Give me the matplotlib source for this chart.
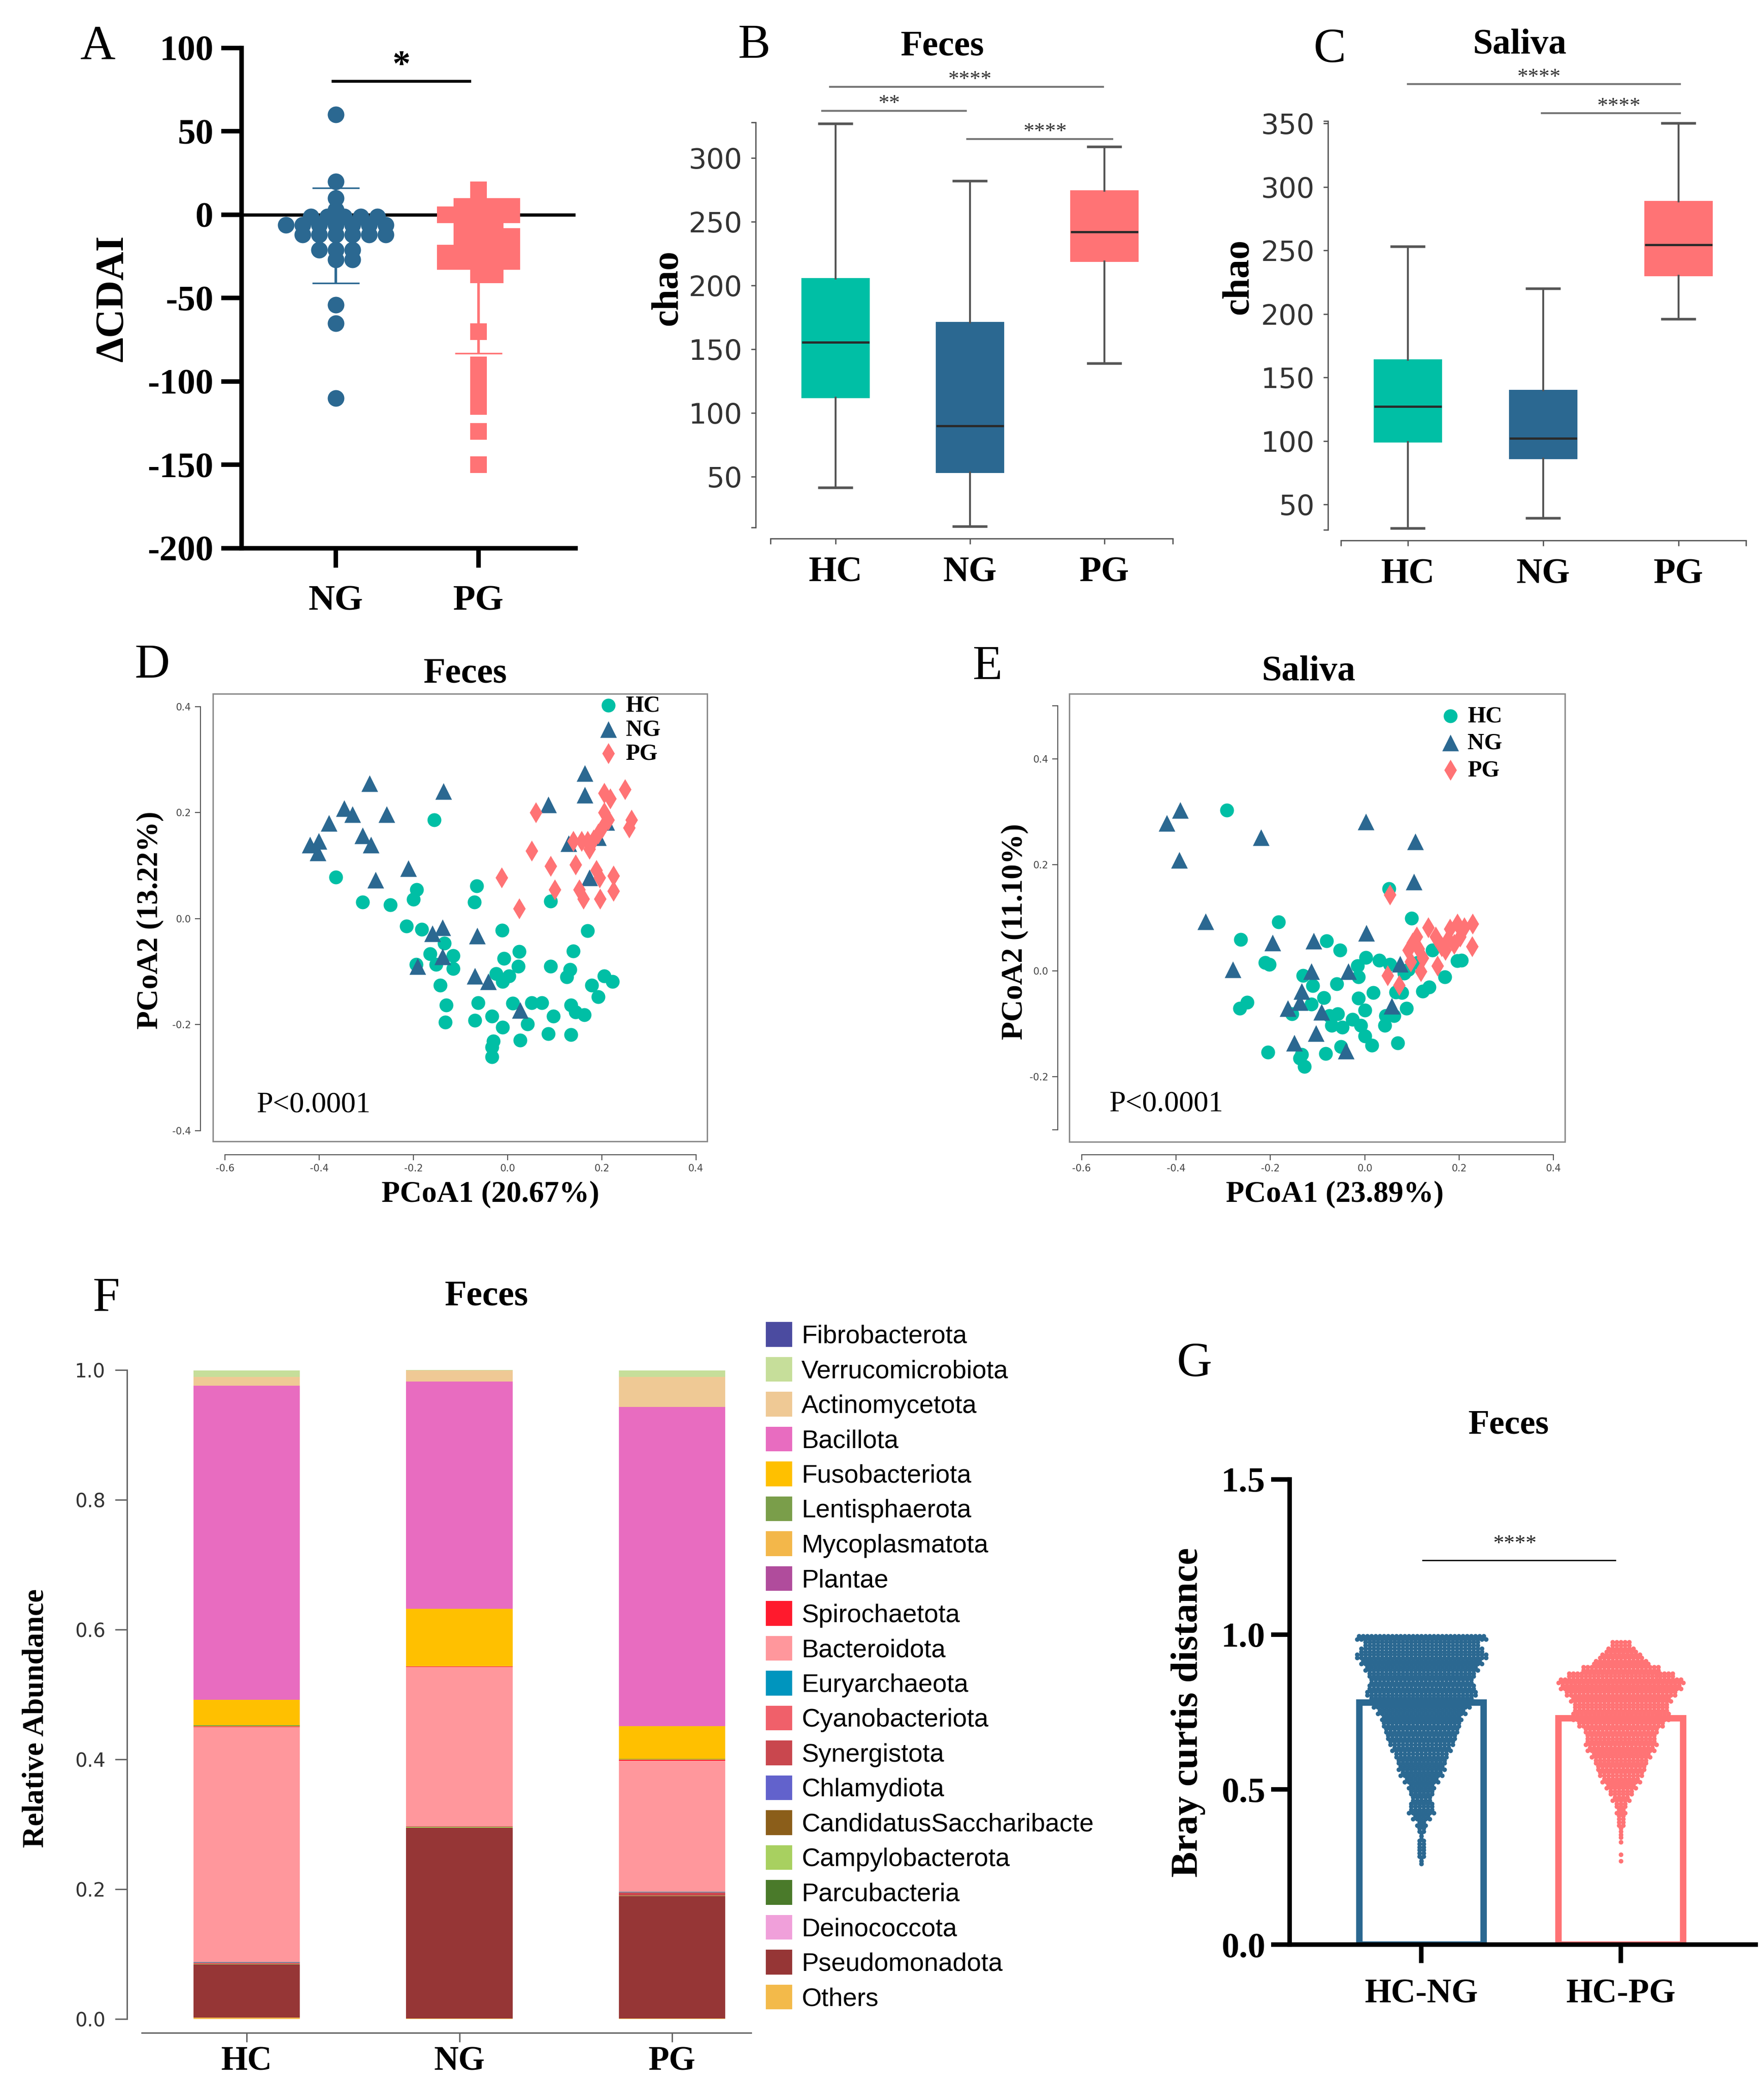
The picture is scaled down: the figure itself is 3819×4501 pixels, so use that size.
"""Multi-panel figure: CDAI change, chao richness, PCoA, phylum composition, Bray-Curtis."""

import matplotlib

matplotlib.use("Agg")
import matplotlib.pyplot as plt
from matplotlib.patches import Rectangle

plt.rcParams["font.family"] = ["DejaVu Sans"]
plt.rcParams["axes.unicode_minus"] = False

SERIF = "Liberation Serif"
SANS = "DejaVu Sans"
W, H = 3819, 4501
PT = 0.72  # points per pixel at dpi=100

HC_COLOR = "#00BFA5"
NG_COLOR = "#2B6891"
PG_COLOR = "#FF7375"

# ---------------- A: change in CDAI ----------------
cdai_groups = ["NG", "PG"]
cdai_ng = [60, 20, 10, 3, -1, -1, -1, -1, -1, -6, -6, -6, -6, -6, -6, -6,
           -12, -12, -12, -12, -12, -12, -21, -21, -21, -27, -27, -54, -65, -110]
cdai_pg = [15, 5, 5, 5, 5, 0, 0, 0, 0, 0, -5, -5, -5, -13, -13, -13, -13,
           -18, -18, -18, -18, -23, -23, -23, -23, -23, -28, -28, -28, -28, -28,
           -36, -36, -70, -90, -100, -110, -115, -130, -150]
cdai_mean = [-12.5, -41.0]
cdai_sd = [28.5, 42.0]

# ---------------- B, C: chao richness ----------------
chao_groups = ["HC", "NG", "PG"]
feces_low = [41.5, 11.0, 138.7]
feces_q1 = [112.0, 53.4, 219.0]
feces_med = [155.6, 90.0, 242.0]
feces_q3 = [205.7, 171.0, 274.3]
feces_high = [327.0, 282.0, 309.0]
saliva_low = [31.0, 39.0, 196.0]
saliva_q1 = [99.0, 86.0, 230.0]
saliva_med = [127.0, 102.0, 254.5]
saliva_q3 = [164.0, 140.0, 288.5]
saliva_high = [253.0, 220.0, 350.0]

feces_sig_text = ["****", "**", "****"]
feces_sig_span = [(-0.04, 1.99), (-0.10, 0.97), (0.98, 2.06)]
feces_sig_y = [356, 337, 315]
feces_sig_xtext = [1.0, 0.40, 1.56]
saliva_sig_text = ["****", "****"]
saliva_sig_span = [(0.0, 2.01), (0.99, 2.01)]
saliva_sig_y = [381, 358]
saliva_sig_xtext = [0.97, 1.56]

# ---------------- D, E: PCoA ----------------
feces_hc = [(-0.156, 0.186), (-0.365, 0.078), (-0.308, 0.031), (-0.249, 0.026), (-0.193, 0.055),
            (-0.200, 0.036), (-0.066, 0.062), (-0.071, 0.031), (0.091, 0.033), (-0.215, -0.014),
            (-0.182, -0.020), (-0.012, -0.022), (0.170, -0.023), (-0.134, -0.046), (-0.165, -0.066),
            (-0.116, -0.070), (-0.152, -0.086), (-0.194, -0.086), (-0.116, -0.094), (-0.008, -0.075),
            (0.025, -0.062), (0.023, -0.090), (0.139, -0.061), (0.091, -0.090), (0.133, -0.096),
            (0.126, -0.110), (-0.024, -0.104), (0.003, -0.108), (-0.011, -0.119), (-0.143, -0.126),
            (0.205, -0.108), (0.179, -0.126), (0.223, -0.119), (0.192, -0.147), (-0.130, -0.163),
            (-0.063, -0.159), (0.011, -0.160), (0.051, -0.159), (0.073, -0.159), (0.135, -0.163),
            (0.144, -0.176), (0.163, -0.181), (0.097, -0.184), (-0.132, -0.195), (-0.070, -0.192),
            (-0.033, -0.184), (-0.011, -0.205), (0.042, -0.199), (0.086, -0.217), (0.135, -0.219),
            (0.027, -0.229), (-0.030, -0.231), (-0.033, -0.242), (-0.033, -0.261)]
feces_ng = [(-0.293, 0.255), (-0.136, 0.240), (-0.347, 0.208), (-0.330, 0.197), (-0.257, 0.197),
            (-0.380, 0.180), (-0.308, 0.157), (-0.290, 0.139), (-0.420, 0.139), (-0.401, 0.146),
            (-0.403, 0.124), (-0.211, 0.095), (-0.281, 0.073), (0.164, 0.274), (0.164, 0.233),
            (0.086, 0.215), (0.130, 0.142), (0.210, 0.182), (0.192, 0.153), (0.174, 0.077),
            (-0.160, -0.028), (-0.138, -0.017), (-0.065, -0.032), (-0.138, -0.072), (-0.191, -0.090),
            (-0.070, -0.108), (-0.041, -0.119), (0.027, -0.173)]
feces_pg = [(-0.013, 0.077), (0.025, 0.019), (0.051, 0.128), (0.060, 0.200), (0.091, 0.099),
            (0.100, 0.055), (0.144, 0.102), (0.139, 0.146), (0.157, 0.146), (0.170, 0.146),
            (0.183, 0.149), (0.174, 0.131), (0.152, 0.055), (0.161, 0.037), (0.188, 0.091),
            (0.195, 0.077), (0.196, 0.037), (0.225, 0.081), (0.225, 0.052), (0.205, 0.237),
            (0.218, 0.226), (0.249, 0.244), (0.263, 0.186), (0.258, 0.171), (0.205, 0.200),
            (0.214, 0.186), (0.201, 0.171), (0.192, 0.160)]

saliva_hc = [(-0.292, 0.303), (0.051, 0.155), (0.099, 0.099), (-0.183, 0.092), (-0.263, 0.059),
             (-0.081, 0.056), (-0.053, 0.039), (-0.211, 0.015), (-0.202, 0.012), (0.002, 0.025),
             (-0.015, 0.009), (0.031, 0.020), (0.053, 0.012), (0.112, 0.015), (0.143, 0.039),
             (0.196, 0.019), (0.205, 0.020), (0.170, -0.012), (-0.131, -0.009), (-0.110, -0.028),
             (-0.059, -0.025), (-0.013, -0.012), (0.083, -0.005), (0.092, 0.002), (0.018, -0.041),
             (-0.013, -0.052), (-0.087, -0.051), (0.066, -0.040), (0.079, -0.041), (0.123, -0.039),
             (0.136, -0.031), (-0.265, -0.071), (-0.249, -0.060), (-0.113, -0.063), (-0.154, -0.081),
             (-0.075, -0.085), (-0.057, -0.081), (0.000, -0.074), (0.044, -0.085), (0.088, -0.071),
             (0.062, -0.085), (-0.070, -0.103), (-0.048, -0.107), (-0.026, -0.092), (-0.009, -0.103),
             (0.042, -0.103), (0.000, -0.123), (0.015, -0.141), (0.070, -0.136), (-0.205, -0.154),
             (-0.134, -0.158), (-0.083, -0.156), (-0.051, -0.143), (-0.128, -0.181), (-0.138, -0.165)]
saliva_ng = [(-0.420, 0.279), (-0.391, 0.303), (-0.393, 0.209), (-0.220, 0.252), (0.002, 0.281),
             (0.107, 0.244), (0.104, 0.168), (-0.337, 0.093), (-0.195, 0.053), (-0.108, 0.056),
             (0.003, 0.071), (-0.280, 0.002), (-0.113, -0.001), (-0.035, -0.001), (0.075, 0.013),
             (-0.134, -0.039), (-0.163, -0.071), (-0.138, -0.060), (-0.092, -0.078), (0.057, -0.067),
             (-0.103, -0.118), (-0.149, -0.136), (-0.040, -0.151)]
saliva_pg = [(0.053, 0.144), (0.048, -0.009), (0.073, -0.027), (0.101, 0.053), (0.114, 0.042),
             (0.110, 0.064), (0.134, 0.082), (0.123, 0.024), (0.154, 0.009), (0.119, -0.001),
             (0.150, 0.064), (0.163, 0.046), (0.176, 0.060), (0.180, 0.079), (0.196, 0.089),
             (0.211, 0.082), (0.202, 0.064), (0.228, 0.089), (0.227, 0.046), (0.092, 0.039),
             (0.097, 0.017), (0.171, 0.039), (0.189, 0.050)]

# ---------------- F: phylum relative abundance (bottom -> top) ----------------
comp_groups = ["HC", "NG", "PG"]
phyla = ["Others", "Pseudomonadota", "Deinococcota", "Parcubacteria", "Campylobacterota",
         "CandidatusSaccharibacte", "Chlamydiota", "Synergistota", "Cyanobacteriota",
         "Euryarchaeota", "Bacteroidota", "Spirochaetota", "Plantae", "Mycoplasmatota",
         "Lentisphaerota", "Fusobacteriota", "Bacillota", "Actinomycetota",
         "Verrucomicrobiota", "Fibrobacterota"]
abund_hc = [0.002, 0.082, 0.0, 0.0, 0.0005, 0.0, 0.0, 0.001, 0.001, 0.001, 0.362, 0.001,
            0.0, 0.001, 0.001, 0.039, 0.484, 0.014, 0.010, 0.0]
abund_ng = [0.001, 0.294, 0.0, 0.0, 0.001, 0.0, 0.0, 0.001, 0.0, 0.0, 0.245, 0.001,
            0.0, 0.001, 0.0, 0.088, 0.350, 0.017, 0.001, 0.0]
abund_pg = [0.001, 0.188, 0.0, 0.0, 0.001, 0.0, 0.0, 0.004, 0.001, 0.001, 0.202, 0.001,
            0.0, 0.001, 0.001, 0.050, 0.492, 0.046, 0.010, 0.0]
phylum_colors = ["#F3BA4A", "#963636", "#F0A0DA", "#4A7A2A", "#A8D060",
                 "#8B5E1A", "#6262CC", "#C9474E", "#F0606A",
                 "#0095BE", "#FF979C", "#FF1A2D", "#B04C9C", "#F3B74A",
                 "#7A9E4A", "#FFC000", "#E86CC0", "#EFC995",
                 "#C6DE9A", "#4B4BA0"]

# ---------------- G: Bray-Curtis distances (pairs per 0.02 bin) ----------------
bc_groups = ["HC-NG", "HC-PG"]
bc_means = [0.78, 0.73]
bc_levels_ng = [0.27, 0.29, 0.31, 0.33, 0.35, 0.37, 0.39, 0.41, 0.43, 0.45, 0.47, 0.49, 0.51,
                0.53, 0.55, 0.57, 0.59, 0.61, 0.63, 0.65, 0.67, 0.69, 0.71, 0.73, 0.75, 0.77,
                0.79, 0.81, 0.83, 0.85, 0.87, 0.89, 0.91, 0.93, 0.95, 0.97, 0.99]
bc_counts_ng = [3, 4, 4, 4, 3, 4, 5, 9, 13, 12, 10, 12, 13,
                17, 21, 23, 24, 26, 29, 32, 34, 36, 38, 39, 43, 47,
                51, 54, 52, 50, 52, 55, 59, 64, 60, 56, 63]
bc_levels_pg = [0.27, 0.29, 0.31, 0.33, 0.35, 0.37, 0.39, 0.41, 0.43, 0.45, 0.47, 0.49, 0.51,
                0.53, 0.55, 0.57, 0.59, 0.61, 0.63, 0.65, 0.67, 0.69, 0.71, 0.73, 0.75, 0.77,
                0.79, 0.81, 0.83, 0.85, 0.87, 0.89, 0.91, 0.93, 0.95, 0.97]
bc_counts_pg = [1, 1, 0, 1, 2, 2, 4, 4, 5, 6, 9, 12, 15,
                19, 22, 24, 26, 29, 33, 35, 34, 36, 42, 48, 47, 46,
                49, 54, 59, 61, 52, 38, 27, 21, 15, 10]


fig = plt.figure(figsize=(W / 100, H / 100), dpi=100)


def px_axes(x0, y0, x1, y1):
    return fig.add_axes([x0 / W, 1 - y1 / H, (x1 - x0) / W, (y1 - y0) / H])


def fig_text(x, y, s, size, weight="bold", family=SERIF, rotation=0):
    fig.text(x / W, 1 - y / H, s, fontsize=size, fontweight=weight, family=family,
             ha="center", va="center_baseline", rotation=rotation, rotation_mode="anchor")


def beeswarm(values, w_px, h_px, ppu_x, ppu_y, square):
    placed, offsets = [], []
    cands = [0.0]
    for k in range(1, 40):
        cands += [k * w_px / 2, -k * w_px / 2]
    for v in values:
        y = v * ppu_y
        for c in cands:
            ok = True
            for px, py in placed:
                dx, dy = abs(c - px), abs(y - py)
                if square:
                    if dx < 0.95 * w_px and dy < 0.5 * h_px:
                        ok = False
                        break
                elif dx * dx + dy * dy < (0.6 * w_px) ** 2:
                    ok = False
                    break
            if ok:
                break
        placed.append((c, y))
        offsets.append(c / ppu_x)
    return offsets


def row_swarm(center, levels, counts, pitch, dy):
    xs, ys = [], []
    for v, n in zip(levels, counts):
        if n <= 3:
            for k in range(n):
                xs.append(center)
                ys.append(v + (k - (n - 1) / 2) * dy)
            continue
        first = (n + 1) // 2
        for row, m in ((0, first), (1, n - first)):
            for i in range(m):
                xs.append(center + (i - (m - 1) / 2) * pitch)
                ys.append(v + (row - 0.5) * dy)
    return xs, ys


# ================= Panel A =================
axA = px_axes(523, 104, 1246, 1187)
axA.set_xlim(-0.66, 1.68)
axA.set_ylim(-200, 100)
for s in ("top", "right"):
    axA.spines[s].set_visible(False)
for s in ("left", "bottom"):
    axA.spines[s].set_linewidth(7)
axA.set_yticks([-200, -150, -100, -50, 0, 50, 100],
               ["-200", "-150", "-100", "-50", "0", "50", "100"],
               fontsize=56, fontweight="bold", family=SERIF)
axA.set_xticks([0, 1], cdai_groups, fontsize=57, fontweight="bold", family=SERIF)
axA.tick_params(axis="y", length=44 * PT, width=7, pad=12)
axA.tick_params(axis="x", length=42 * PT, width=7, pad=27)
axA.axhline(0, color="black", lw=5, zorder=1)
for i, (m, sd, c) in enumerate(zip(cdai_mean, cdai_sd, [NG_COLOR, PG_COLOR])):
    axA.errorbar(i, m, yerr=sd, fmt="none", ecolor=c, elinewidth=4, capsize=37,
                 capthick=2.5, zorder=2)
ppu_y = 1083 / 300
off_ng = beeswarm(cdai_ng, 36, 36, 309, ppu_y, square=False)
off_pg = beeswarm(cdai_pg, 36, 34, 309, ppu_y, square=True)
axA.scatter([0 + o for o in off_ng], cdai_ng, s=(36 * PT) ** 2, marker="o",
            color=NG_COLOR, linewidths=0, zorder=3, clip_on=False)
axA.scatter([1 + o for o in off_pg], cdai_pg, s=(36 * PT) ** 2, marker="s",
            color=PG_COLOR, linewidths=0, zorder=3, clip_on=False)
axA.plot([-0.02, 0.94], [80, 80], color="black", lw=4.5, clip_on=False)
axA.text(0.46, 84, "*", ha="center", va="baseline", fontsize=56, fontweight="bold",
         family=SERIF)
fig_text(212, 91, "A", 76, weight="normal")
fig_text(236, 646, "\u0394CDAI", 62, rotation=90)


# ================= Panels B, C =================
def chao_panel(box, xlim, ylim, left_out, ybounds, yticks, lows, q1s, meds, q3s, highs,
               sig_text, sig_span, sig_y, sig_xtext):
    ax = px_axes(*box)
    stats = [dict(med=m, q1=a, q3=b, whislo=lo, whishi=hi, fliers=[])
             for lo, a, m, b, hi in zip(lows, q1s, meds, q3s, highs)]
    res = ax.bxp(stats, positions=[0, 1, 2], widths=0.5, patch_artist=True,
                 manage_ticks=False, capwidths=0.24,
                 whiskerprops=dict(color="#555555", lw=3),
                 capprops=dict(color="#555555", lw=4),
                 medianprops=dict(color="#2a2a2a", lw=3.5))
    for patch, c in zip(res["boxes"], [HC_COLOR, NG_COLOR, PG_COLOR]):
        patch.set_facecolor(c)
        patch.set_edgecolor(c)
        patch.set_linewidth(1.5)
    ax.set_xlim(*xlim)
    ax.set_ylim(*ylim)
    for s in ("top", "right"):
        ax.spines[s].set_visible(False)
    ax.spines["left"].set_position(("outward", left_out * PT))
    ax.spines["left"].set_bounds(*ybounds)
    for s in ("left", "bottom"):
        ax.spines[s].set_color("#555555")
        ax.spines[s].set_linewidth(2)
    ax.set_yticks(yticks, [str(t) for t in yticks], fontsize=44, family=SANS, color="#333333")
    ax.set_yticks(list(ybounds), minor=True)
    ax.set_xticks([0, 1, 2], chao_groups, fontsize=56, fontweight="bold", family=SERIF)
    ax.set_xticks(list(xlim), minor=True)
    ax.tick_params(axis="y", which="both", length=10 * PT, width=2, color="#555555", pad=14)
    ax.tick_params(axis="x", which="both", length=12 * PT, width=2, color="#555555", pad=19)
    for txt, (xa, xb), y, xt in zip(sig_text, sig_span, sig_y, sig_xtext):
        ax.plot([xa, xb], [y, y], color="#777777", lw=3, clip_on=False)
        ax.annotate(txt, (xt, y), xytext=(0, 2), textcoords="offset points", ha="center",
                    va="baseline", fontsize=34, family=SERIF, color="#333333",
                    annotation_clip=False)
    return ax


chao_panel((1668, 232, 2539, 1166), (-0.485, 2.509), (1.45, 340), 32, (10, 328),
           [50, 100, 150, 200, 250, 300], feces_low, feces_q1, feces_med, feces_q3,
           feces_high, feces_sig_text, feces_sig_span, feces_sig_y, feces_sig_xtext)
chao_panel((2903, 240, 3780, 1170), (-0.495, 2.498), (21.6, 360), 28, (30, 352),
           [50, 100, 150, 200, 250, 300, 350], saliva_low, saliva_q1, saliva_med, saliva_q3,
           saliva_high, saliva_sig_text, saliva_sig_span, saliva_sig_y, saliva_sig_xtext)
fig_text(1633, 88, "B", 76, weight="normal")
fig_text(2040, 93, "Feces", 56)
fig_text(1437, 623, "chao", 59, rotation=90)
fig_text(2879, 97, "C", 76, weight="normal")
fig_text(3290, 89, "Saliva", 56)
fig_text(2673, 599, "chao", 59, rotation=90)


# ================= Panels D, E =================
def pcoa_panel(box, ylim, left_out, bottom_out, ybounds, yticks, yminor, hc, ng, pg,
               legend_xy, legend_spacing):
    ax = px_axes(*box)
    ax.set_xlim(-0.626, 0.424)
    ax.set_ylim(*ylim)
    ax.add_patch(Rectangle((0, 0), 1, 1, transform=ax.transAxes, fill=False,
                           edgecolor="#8c8c8c", lw=2.2, clip_on=False))
    for s in ("top", "right"):
        ax.spines[s].set_visible(False)
    ax.spines["left"].set_position(("outward", left_out * PT))
    ax.spines["bottom"].set_position(("outward", bottom_out * PT))
    ax.spines["left"].set_bounds(*ybounds)
    ax.spines["bottom"].set_bounds(-0.6, 0.4)
    for s in ("left", "bottom"):
        ax.spines[s].set_color("#555555")
        ax.spines[s].set_linewidth(1.6)
    xt = [-0.6, -0.4, -0.2, 0.0, 0.2, 0.4]
    ax.set_xticks(xt, [f"{t:.1f}" for t in xt], fontsize=15, family=SANS, color="#444444")
    ax.set_yticks(yticks, [f"{t:.1f}" for t in yticks], fontsize=15, family=SANS,
                  color="#444444")
    if yminor:
        ax.set_yticks(yminor, minor=True)
    ax.tick_params(axis="both", which="both", length=12 * PT, width=1.6, color="#555555",
                   pad=6)
    h1 = ax.scatter([p[0] for p in hc], [p[1] for p in hc], s=(30 * PT) ** 2, marker="o",
                    color=HC_COLOR, linewidths=0, zorder=3)
    h2 = ax.scatter([p[0] for p in ng], [p[1] for p in ng], s=(36 * PT) ** 2, marker="^",
                    color=NG_COLOR, linewidths=0, zorder=3)
    h3 = ax.scatter([p[0] for p in pg], [p[1] for p in pg], s=(32 * PT) ** 2, marker="d",
                    color=PG_COLOR, linewidths=0, zorder=3)
    ax.legend([h1, h2, h3], chao_groups, loc="upper left",
              bbox_to_anchor=(legend_xy[0] / W, 1 - legend_xy[1] / H),
              bbox_transform=fig.transFigure, frameon=False, borderpad=0, borderaxespad=0,
              handlelength=0.8, handletextpad=0.35, labelspacing=legend_spacing,
              scatterpoints=1, prop={"family": SERIF, "weight": "bold", "size": 36})
    return ax


pcoa_panel((461, 1502, 1531, 2471), (-0.42, 0.424), 27, 29, (-0.4, 0.4),
           [-0.4, -0.2, 0.0, 0.2, 0.4], None, feces_hc, feces_ng, feces_pg, (1297, 1505), 0.12)
pcoa_panel((2315, 1502, 3388, 2472), (-0.323, 0.523), 25, 28, (-0.3, 0.5),
           [-0.2, 0.0, 0.2, 0.4], [-0.3, 0.5], saliva_hc, saliva_ng, saliva_pg,
           (3120, 1528), 0.25)
fig_text(330, 1430, "D", 76, weight="normal")
fig_text(1007, 1451, "Feces", 56)
fig_text(318, 1992, "PCoA2 (13.22%)", 47, rotation=90)
fig_text(1062, 2579, "PCoA1 (20.67%)", 47)
fig.text(555 / W, 1 - 2386 / H, "P<0.0001", fontsize=46, family=SERIF, ha="left",
         va="center_baseline")
fig_text(2138, 1433, "E", 76, weight="normal")
fig_text(2833, 1446, "Saliva", 56)
fig_text(2190, 2017, "PCoA2 (11.10%)", 47, rotation=90)
fig_text(2890, 2579, "PCoA1 (23.89%)", 47)
fig.text(2401 / W, 1 - 2383 / H, "P<0.0001", fontsize=46, family=SERIF, ha="left",
         va="center_baseline")


# ================= Panel F =================
axF = px_axes(307, 2966, 1626, 4371)
axF.set_xlim(-0.493, 2.371)
axF.set_ylim(0, 1)
bottoms = [0.0, 0.0, 0.0]
bars = []
for name, a, b, c, col in zip(phyla, abund_hc, abund_ng, abund_pg, phylum_colors):
    vals = [a, b, c]
    bars.append(axF.bar([0, 1, 2], vals, width=0.5, bottom=bottoms, color=col,
                        linewidth=0, label=name))
    bottoms = [bo + v for bo, v in zip(bottoms, vals)]
for s in ("top", "right"):
    axF.spines[s].set_visible(False)
axF.spines["left"].set_position(("outward", 32 * PT))
axF.spines["bottom"].set_position(("outward", 30 * PT))
axF.spines["left"].set_bounds(0, 1)
for s in ("left", "bottom"):
    axF.spines[s].set_color("#666666")
    axF.spines[s].set_linewidth(2.2)
ft = [0.0, 0.2, 0.4, 0.6, 0.8, 1.0]
axF.set_yticks(ft, [f"{t:.1f}" for t in ft], fontsize=30, family=SANS, color="#333333")
axF.set_xticks([0, 1, 2], comp_groups, fontsize=53, fontweight="bold", family=SERIF)
axF.tick_params(axis="y", length=26 * PT, width=2.2, color="#666666", pad=15)
axF.tick_params(axis="x", length=20 * PT, width=2.2, color="#666666", pad=6)
axF.legend(bars[::-1], phyla[::-1], loc="upper left",
           bbox_to_anchor=(1658 / W, 1 - 2862 / H), bbox_transform=fig.transFigure,
           frameon=False, borderpad=0, borderaxespad=0, handlelength=1.03,
           handleheight=1.11, handletextpad=0.36, labelspacing=0.32,
           prop={"family": "Liberation Sans", "size": 40})
fig_text(230, 2801, "F", 76, weight="normal")
fig_text(1053, 2798, "Feces", 56)
fig_text(71, 3720, "Relative Abundance", 47, rotation=90)


# ================= Panel G =================
axG = px_axes(2792, 3203, 3801, 4210)
axG.set_xlim(-0.66, 1.676)
axG.set_ylim(0, 1.5)
for s in ("top", "right"):
    axG.spines[s].set_visible(False)
for s in ("left", "bottom"):
    axG.spines[s].set_linewidth(7)
axG.bar([0, 1], bc_means, width=0.623, facecolor="white",
        edgecolor=[NG_COLOR, PG_COLOR], linewidth=10, zorder=2)
pitch = 9 / 432
xs, ys = row_swarm(0, bc_levels_ng, bc_counts_ng, pitch, 0.01)
axG.scatter(xs, ys, s=(10 * PT) ** 2, color=NG_COLOR, linewidths=0, zorder=3)
xs, ys = row_swarm(1, bc_levels_pg, bc_counts_pg, pitch, 0.01)
axG.scatter(xs, ys, s=(10 * PT) ** 2, color=PG_COLOR, linewidths=0, zorder=3)
gt = [0.0, 0.5, 1.0, 1.5]
axG.set_yticks(gt, [f"{t:.1f}" for t in gt], fontsize=55, fontweight="bold", family=SERIF)
axG.set_xticks([0, 1], bc_groups, fontsize=53, fontweight="bold", family=SERIF)
axG.tick_params(axis="y", length=40 * PT, width=7, pad=9)
axG.tick_params(axis="x", length=40 * PT, width=7, pad=24)
axG.plot([0.007, 0.972], [1.24, 1.24], color="black", lw=2)
axG.text(0.47, 1.273, "****", ha="center", va="baseline", fontsize=34, family=SERIF,
         color="#222222")
fig_text(2586, 2942, "G", 76, weight="normal")
fig_text(3266, 3078, "Feces", 54)
fig_text(2564, 3707, "Bray curtis distance", 60, rotation=90)

fig.savefig("out.png", dpi=100, facecolor="white")
